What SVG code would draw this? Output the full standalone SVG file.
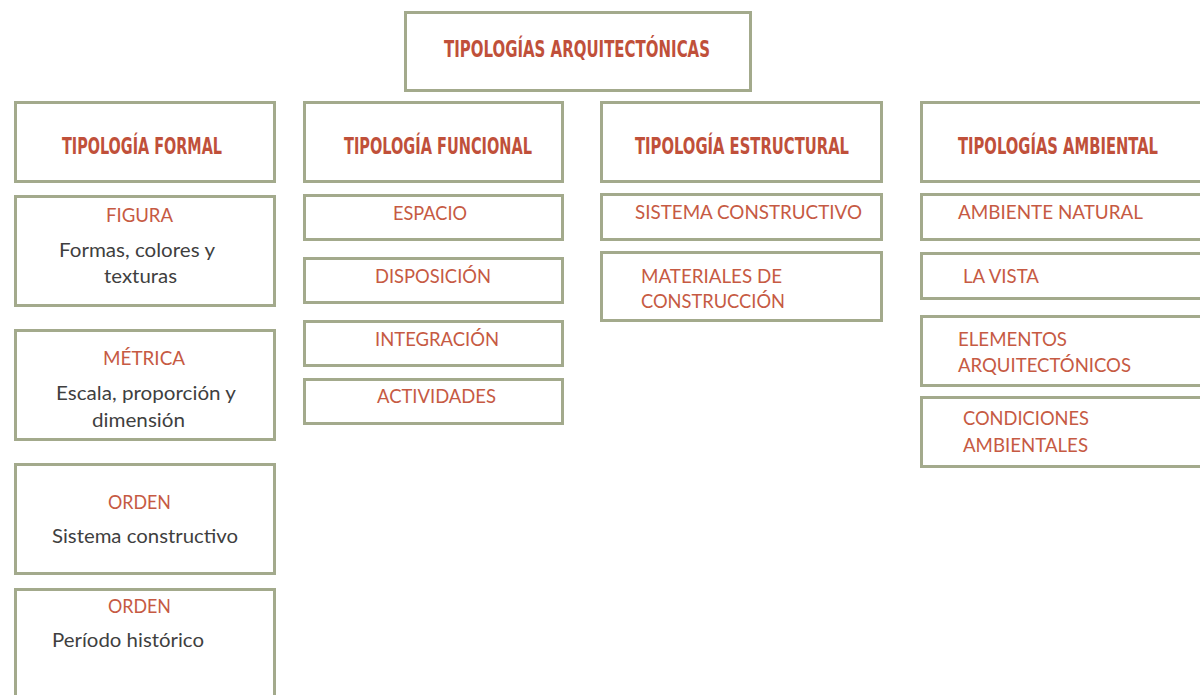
<svg xmlns="http://www.w3.org/2000/svg" width="1200" height="695" viewBox="0 0 1200 695">
<style>
.b{fill:#fff;stroke:#a3aa8c;stroke-width:3}
.h{font-family:"DejaVu Sans Condensed","DejaVu Sans",sans-serif;font-weight:bold;font-size:17px;fill:#c0503a}
.t{font-family:Lato,"Liberation Sans",sans-serif;font-size:18.5px;fill:#c65a43}
.d{font-family:Lato,"Liberation Sans",sans-serif;font-size:19.5px;fill:#3f3f3f}
</style>
<rect width="1200" height="695" fill="#fff"/>
<g id="root"><rect class="b" x="405.5" y="12.5" width="345" height="78"/><text class="h" transform="translate(444 57) scale(1 1.4)" font-size="18" textLength="266" lengthAdjust="spacingAndGlyphs">TIPOLOGÍAS ARQUITECTÓNICAS</text></g>
<g id="formal"><rect class="b" x="15.5" y="102.5" width="259" height="79"/><text class="h" transform="translate(62 154) scale(1 1.35)" textLength="160" lengthAdjust="spacingAndGlyphs">TIPOLOGÍA FORMAL</text></g>
<g id="figura"><rect class="b" x="15.5" y="196.5" width="259" height="109"/><text class="t" x="106" y="222" textLength="67" lengthAdjust="spacingAndGlyphs">FIGURA</text><text class="d" x="59" y="257" textLength="156" lengthAdjust="spacingAndGlyphs">Formas, colores y</text><text class="d" x="104" y="283" textLength="73" lengthAdjust="spacingAndGlyphs">texturas</text></g>
<g id="metrica"><rect class="b" x="15.5" y="330.5" width="259" height="109"/><text class="t" x="103" y="365" textLength="82" lengthAdjust="spacingAndGlyphs">MÉTRICA</text><text class="d" x="56" y="400" textLength="180" lengthAdjust="spacingAndGlyphs">Escala, proporción y</text><text class="d" x="92" y="427" textLength="93" lengthAdjust="spacingAndGlyphs">dimensión</text></g>
<g id="orden1"><rect class="b" x="15.5" y="464.5" width="259" height="109"/><text class="t" x="108" y="509" textLength="63" lengthAdjust="spacingAndGlyphs">ORDEN</text><text class="d" x="52" y="543" textLength="186" lengthAdjust="spacingAndGlyphs">Sistema constructivo</text></g>
<g id="orden2"><rect class="b" x="15.5" y="589.5" width="259" height="110"/><text class="t" x="108" y="613" textLength="63" lengthAdjust="spacingAndGlyphs">ORDEN</text><text class="d" x="52" y="647" textLength="152" lengthAdjust="spacingAndGlyphs">Período histórico</text></g>
<g id="funcional"><rect class="b" x="304.5" y="102.5" width="258" height="79"/><text class="h" transform="translate(344 154) scale(1 1.35)" textLength="188" lengthAdjust="spacingAndGlyphs">TIPOLOGÍA FUNCIONAL</text></g>
<g id="espacio"><rect class="b" x="304.5" y="195.5" width="258" height="44"/><text class="t" x="393" y="220" textLength="74" lengthAdjust="spacingAndGlyphs">ESPACIO</text></g>
<g id="disposicion"><rect class="b" x="304.5" y="258.5" width="258" height="44"/><text class="t" x="375" y="283" textLength="116" lengthAdjust="spacingAndGlyphs">DISPOSICIÓN</text></g>
<g id="integracion"><rect class="b" x="304.5" y="321.5" width="258" height="44"/><text class="t" x="375" y="346" textLength="124" lengthAdjust="spacingAndGlyphs">INTEGRACIÓN</text></g>
<g id="actividades"><rect class="b" x="304.5" y="379.5" width="258" height="44"/><text class="t" x="377" y="403" textLength="119" lengthAdjust="spacingAndGlyphs">ACTIVIDADES</text></g>
<g id="estructural"><rect class="b" x="601.5" y="102.5" width="280" height="79"/><text class="h" transform="translate(635 154) scale(1 1.35)" textLength="214" lengthAdjust="spacingAndGlyphs">TIPOLOGÍA ESTRUCTURAL</text></g>
<g id="sistema"><rect class="b" x="601.5" y="194.5" width="280" height="45"/><text class="t" x="635" y="219" textLength="227" lengthAdjust="spacingAndGlyphs">SISTEMA CONSTRUCTIVO</text></g>
<g id="materiales"><rect class="b" x="601.5" y="252.5" width="280" height="68"/><text class="t" x="641" y="283" textLength="141" lengthAdjust="spacingAndGlyphs">MATERIALES DE</text><text class="t" x="641" y="308" textLength="144" lengthAdjust="spacingAndGlyphs">CONSTRUCCIÓN</text></g>
<g id="ambiental"><rect class="b" x="921.5" y="102.5" width="280" height="79"/><text class="h" transform="translate(958 154) scale(1 1.35)" textLength="200" lengthAdjust="spacingAndGlyphs">TIPOLOGÍAS AMBIENTAL</text></g>
<g id="natural"><rect class="b" x="921.5" y="194.5" width="280" height="45"/><text class="t" x="958" y="219" textLength="185" lengthAdjust="spacingAndGlyphs">AMBIENTE NATURAL</text></g>
<g id="vista"><rect class="b" x="921.5" y="253.5" width="280" height="45"/><text class="t" x="963" y="283" textLength="76" lengthAdjust="spacingAndGlyphs">LA VISTA</text></g>
<g id="elementos"><rect class="b" x="921.5" y="316.5" width="280" height="69"/><text class="t" x="958" y="346" textLength="109" lengthAdjust="spacingAndGlyphs">ELEMENTOS</text><text class="t" x="958" y="372" textLength="173" lengthAdjust="spacingAndGlyphs">ARQUITECTÓNICOS</text></g>
<g id="condiciones"><rect class="b" x="921.5" y="397.5" width="280" height="69"/><text class="t" x="963" y="425" textLength="126" lengthAdjust="spacingAndGlyphs">CONDICIONES</text><text class="t" x="963" y="452" textLength="125" lengthAdjust="spacingAndGlyphs">AMBIENTALES</text></g>
<g id="connectors"></g>
</svg>
